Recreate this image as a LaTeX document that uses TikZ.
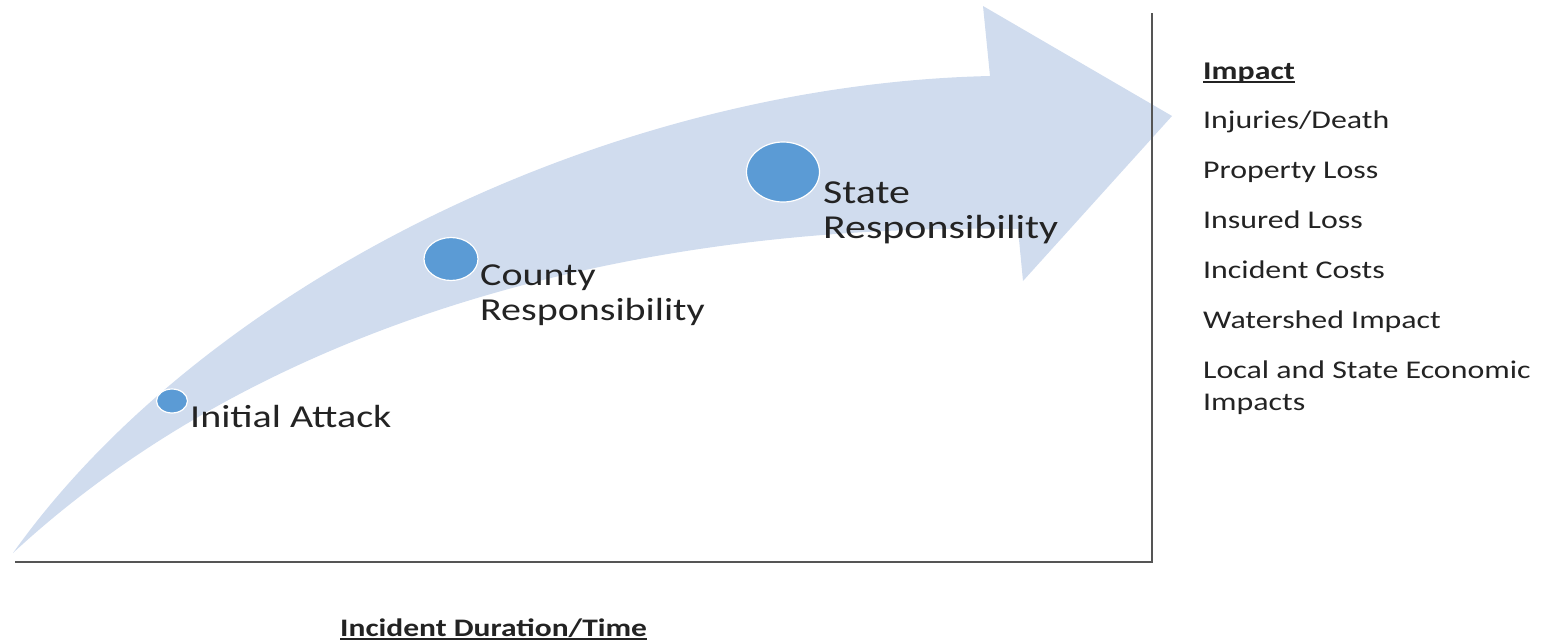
\documentclass[tikz,border=0pt]{standalone}
\usepackage{fontspec}
\setmainfont{Carlito}[FakeStretch=1.25]
\usetikzlibrary{shapes.geometric}

\definecolor{bandblue}{RGB}{208,220,238}
\definecolor{dotblue}{RGB}{91,155,213}
\definecolor{axisgray}{RGB}{85,85,85}
\definecolor{inkgray}{RGB}{35,35,35}

\begin{document}
\begin{tikzpicture}[x=1pt, y=-1pt,
    dot/.style={ellipse, fill=dotblue, draw=white, line width=1.2pt, inner sep=0pt},
    stagetext/.style={anchor=base west, inner sep=0pt, align=left, text=inkgray, font=\fontsize{32}{35}\selectfont},
    impacttext/.style={anchor=base west, inner sep=0pt, align=left, text=inkgray, font=\fontsize{25.5}{32}\selectfont}]
    \useasboundingbox (0,0) rectangle (1547,643);

    \fill[bandblue] (13,553) .. controls (200,290) and (600,85) .. (990,76) -- (983,6) -- (1172,116)
        -- (1023,281) -- (1018,229) .. controls (600,222) and (245,338) .. (13,553) -- cycle;

    \coordinate (origin) at (15,562);
    \coordinate (xend) at (1152,562);
    \coordinate (ytop) at (1152,13);
    \draw[axisgray, line width=1.5pt] (origin) -- (xend) -- (ytop);

    \node[dot, minimum width=31pt, minimum height=24pt] (initialdot) at (172,401) {};
    \node[dot, minimum width=54pt, minimum height=43pt] (countydot) at (451,259) {};
    \node[dot, minimum width=73pt, minimum height=60pt] (statedot) at (783,172) {};

    \node[stagetext] (initial) at (190,427) {Initial Attack};
    \node[stagetext] (county) at (480,320) {County\\Responsibility};
    \node[stagetext, font=\fontsize{33.5}{35}\selectfont] (state) at (823,238) {State\\Responsibility};

    \node[impacttext, font=\fontsize{25.5}{32}\selectfont\bfseries] (impact) at (1203,79) {Impact};
    \draw[inkgray, line width=1.2pt] ([yshift=-3pt]impact.base west) -- ([yshift=-3pt]impact.base east);
    \foreach \y/\t [count=\i] in {128/{Injuries/Death}, 178/Property Loss, 228/Insured Loss, 278/Incident Costs,
                                  328/Watershed Impact, 410/{Local and State Economic\\Impacts}}
             {
               \node[impacttext] (item\i) at (1203,\y) {\t};
             }

    \node[impacttext, font=\fontsize{25.2}{30}\selectfont\bfseries] (duration) at (340,636) {Incident Duration/Time};
    \draw[inkgray, line width=1.2pt] ([yshift=-3pt]duration.base west) -- ([yshift=-3pt]duration.base east);

  \end{tikzpicture}
\end{document}
